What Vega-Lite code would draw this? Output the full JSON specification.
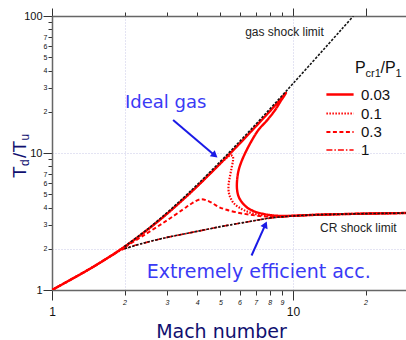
{
  "$schema": "https://vega.github.io/schema/vega-lite/v6.json",
  "width": 356,
  "height": 274,
  "autosize": {"type": "none"},
  "padding": {"left": 52, "top": 16, "right": 0, "bottom": 50},
  "background": "white",
  "config": {"view": {"stroke": null}, "font": "Liberation Sans"},
  "resolve": {"axis": {"x": "independent", "y": "independent"}},
  "datasets": {
    "red": [
      {"p": "0.03", "o": 1, "M": 1, "T": 1}, {"p": "0.03", "o": 2, "M": 1.5, "T": 1.495}, {"p": "0.03", "o": 3, "M": 2, "T": 2.07},
      {"p": "0.03", "o": 4, "M": 2.5, "T": 2.77}, {"p": "0.03", "o": 5, "M": 3, "T": 3.6}, {"p": "0.03", "o": 6, "M": 3.5, "T": 4.58},
      {"p": "0.03", "o": 7, "M": 4, "T": 5.7}, {"p": "0.03", "o": 8, "M": 5, "T": 8.4}, {"p": "0.03", "o": 9, "M": 6, "T": 11.7},
      {"p": "0.03", "o": 10, "M": 7, "T": 15.6}, {"p": "0.03", "o": 11, "M": 8, "T": 20.1}, {"p": "0.03", "o": 12, "M": 8.7, "T": 23.7},
      {"p": "0.03", "o": 13, "M": 9.2, "T": 26.6}, {"p": "0.03", "o": 14, "M": 9.35, "T": 27.4}, {"p": "0.03", "o": 15, "M": 8.9, "T": 24},
      {"p": "0.03", "o": 16, "M": 8.43, "T": 20.6}, {"p": "0.03", "o": 17, "M": 7.8, "T": 17.3}, {"p": "0.03", "o": 18, "M": 7.18, "T": 14.7},
      {"p": "0.03", "o": 19, "M": 6.58, "T": 11.4}, {"p": "0.03", "o": 20, "M": 6.15, "T": 8.9}, {"p": "0.03", "o": 21, "M": 5.95, "T": 7.5},
      {"p": "0.03", "o": 22, "M": 5.86, "T": 6.3}, {"p": "0.03", "o": 23, "M": 5.86, "T": 5.4}, {"p": "0.03", "o": 24, "M": 5.95, "T": 4.8},
      {"p": "0.03", "o": 25, "M": 6.15, "T": 4.35}, {"p": "0.03", "o": 26, "M": 6.45, "T": 4.0}, {"p": "0.03", "o": 27, "M": 6.9, "T": 3.75},
      {"p": "0.03", "o": 28, "M": 7.5, "T": 3.6}, {"p": "0.03", "o": 29, "M": 8.3, "T": 3.5}, {"p": "0.03", "o": 30, "M": 9.2, "T": 3.47},
      {"p": "0.03", "o": 31, "M": 10, "T": 3.48}, {"p": "0.03", "o": 32, "M": 12, "T": 3.53}, {"p": "0.03", "o": 33, "M": 15, "T": 3.57},
      {"p": "0.03", "o": 34, "M": 20, "T": 3.61}, {"p": "0.03", "o": 35, "M": 25, "T": 3.63}, {"p": "0.03", "o": 36, "M": 30, "T": 3.65},

      {"p": "0.1", "o": 1, "M": 1, "T": 1}, {"p": "0.1", "o": 2, "M": 1.5, "T": 1.495}, {"p": "0.1", "o": 3, "M": 2, "T": 2.07},
      {"p": "0.1", "o": 4, "M": 2.5, "T": 2.77}, {"p": "0.1", "o": 5, "M": 3, "T": 3.6}, {"p": "0.1", "o": 6, "M": 3.5, "T": 4.58},
      {"p": "0.1", "o": 7, "M": 4, "T": 5.7}, {"p": "0.1", "o": 8, "M": 4.5, "T": 7.0}, {"p": "0.1", "o": 9, "M": 5, "T": 8.4},
      {"p": "0.1", "o": 10, "M": 5.3, "T": 9.2}, {"p": "0.1", "o": 11, "M": 5.5, "T": 9.6}, {"p": "0.1", "o": 12, "M": 5.62, "T": 9.5},
      {"p": "0.1", "o": 13, "M": 5.64, "T": 8.9}, {"p": "0.1", "o": 14, "M": 5.57, "T": 7.9}, {"p": "0.1", "o": 15, "M": 5.47, "T": 6.7},
      {"p": "0.1", "o": 16, "M": 5.4, "T": 5.8}, {"p": "0.1", "o": 17, "M": 5.42, "T": 5.1}, {"p": "0.1", "o": 18, "M": 5.52, "T": 4.65},
      {"p": "0.1", "o": 19, "M": 5.68, "T": 4.3}, {"p": "0.1", "o": 20, "M": 5.95, "T": 4.02}, {"p": "0.1", "o": 21, "M": 6.35, "T": 3.78},
      {"p": "0.1", "o": 22, "M": 6.9, "T": 3.6}, {"p": "0.1", "o": 23, "M": 7.6, "T": 3.5}, {"p": "0.1", "o": 24, "M": 8.5, "T": 3.45},
      {"p": "0.1", "o": 25, "M": 10, "T": 3.48}, {"p": "0.1", "o": 26, "M": 12, "T": 3.53}, {"p": "0.1", "o": 27, "M": 15, "T": 3.57},
      {"p": "0.1", "o": 28, "M": 20, "T": 3.61}, {"p": "0.1", "o": 29, "M": 25, "T": 3.63}, {"p": "0.1", "o": 30, "M": 30, "T": 3.65},

      {"p": "0.3", "o": 1, "M": 1, "T": 1}, {"p": "0.3", "o": 2, "M": 1.5, "T": 1.495}, {"p": "0.3", "o": 3, "M": 2, "T": 2.05},
      {"p": "0.3", "o": 4, "M": 2.5, "T": 2.62}, {"p": "0.3", "o": 5, "M": 3, "T": 3.22}, {"p": "0.3", "o": 6, "M": 3.5, "T": 3.88},
      {"p": "0.3", "o": 7, "M": 3.8, "T": 4.28}, {"p": "0.3", "o": 8, "M": 4.15, "T": 4.6}, {"p": "0.3", "o": 9, "M": 4.5, "T": 4.42},
      {"p": "0.3", "o": 10, "M": 4.9, "T": 4.05}, {"p": "0.3", "o": 11, "M": 5.3, "T": 3.85}, {"p": "0.3", "o": 12, "M": 6, "T": 3.65},
      {"p": "0.3", "o": 13, "M": 6.6, "T": 3.55}, {"p": "0.3", "o": 14, "M": 7.5, "T": 3.45}, {"p": "0.3", "o": 15, "M": 8.5, "T": 3.42},
      {"p": "0.3", "o": 16, "M": 10, "T": 3.48}, {"p": "0.3", "o": 17, "M": 12, "T": 3.53}, {"p": "0.3", "o": 18, "M": 15, "T": 3.57},
      {"p": "0.3", "o": 19, "M": 20, "T": 3.61}, {"p": "0.3", "o": 20, "M": 25, "T": 3.63}, {"p": "0.3", "o": 21, "M": 30, "T": 3.65},

      {"p": "1", "o": 1, "M": 1, "T": 1}, {"p": "1", "o": 2, "M": 1.25, "T": 1.24}, {"p": "1", "o": 3, "M": 1.5, "T": 1.49},
      {"p": "1", "o": 4, "M": 1.75, "T": 1.76}, {"p": "1", "o": 5, "M": 2, "T": 2.0}, {"p": "1", "o": 6, "M": 2.4, "T": 2.2},
      {"p": "1", "o": 7, "M": 3, "T": 2.42}, {"p": "1", "o": 8, "M": 3.4, "T": 2.53}, {"p": "1", "o": 9, "M": 4, "T": 2.68},
      {"p": "1", "o": 10, "M": 5, "T": 2.9}, {"p": "1", "o": 11, "M": 6, "T": 3.07}, {"p": "1", "o": 12, "M": 7, "T": 3.22},
      {"p": "1", "o": 13, "M": 8, "T": 3.35}, {"p": "1", "o": 14, "M": 9, "T": 3.42}, {"p": "1", "o": 15, "M": 10, "T": 3.47},
      {"p": "1", "o": 16, "M": 12, "T": 3.53}, {"p": "1", "o": 17, "M": 15, "T": 3.57}, {"p": "1", "o": 18, "M": 20, "T": 3.61},
      {"p": "1", "o": 19, "M": 25, "T": 3.63}, {"p": "1", "o": 20, "M": 30, "T": 3.65}
    ],
    "black": [
      {"s": "gas", "o": 1, "M": 2, "T": 2.078}, {"s": "gas", "o": 2, "M": 2.5, "T": 2.798}, {"s": "gas", "o": 3, "M": 3, "T": 3.667},
      {"s": "gas", "o": 4, "M": 3.5, "T": 4.688}, {"s": "gas", "o": 5, "M": 4, "T": 5.863}, {"s": "gas", "o": 6, "M": 5, "T": 8.68},
      {"s": "gas", "o": 7, "M": 6, "T": 12.12}, {"s": "gas", "o": 8, "M": 7, "T": 16.18}, {"s": "gas", "o": 9, "M": 8, "T": 20.87},
      {"s": "gas", "o": 10, "M": 9, "T": 26.19}, {"s": "gas", "o": 11, "M": 10, "T": 32.12}, {"s": "gas", "o": 12, "M": 12, "T": 45.87},
      {"s": "gas", "o": 13, "M": 14, "T": 62.12}, {"s": "gas", "o": 14, "M": 16, "T": 80.87}, {"s": "gas", "o": 15, "M": 17.8, "T": 99.9},
      {"s": "CR", "o": 1, "M": 2, "T": 2.0}, {"s": "CR", "o": 2, "M": 2.4, "T": 2.2}, {"s": "CR", "o": 3, "M": 3, "T": 2.42},
      {"s": "CR", "o": 4, "M": 3.4, "T": 2.53}, {"s": "CR", "o": 5, "M": 4, "T": 2.68}, {"s": "CR", "o": 6, "M": 5, "T": 2.9},
      {"s": "CR", "o": 7, "M": 6, "T": 3.07}, {"s": "CR", "o": 8, "M": 7, "T": 3.22}, {"s": "CR", "o": 9, "M": 8, "T": 3.35},
      {"s": "CR", "o": 10, "M": 9, "T": 3.42}, {"s": "CR", "o": 11, "M": 10, "T": 3.47}, {"s": "CR", "o": 12, "M": 12, "T": 3.53},
      {"s": "CR", "o": 13, "M": 15, "T": 3.57}, {"s": "CR", "o": 14, "M": 20, "T": 3.61}, {"s": "CR", "o": 15, "M": 25, "T": 3.63},
      {"s": "CR", "o": 16, "M": 30, "T": 3.65}
    ]
  },
  "layer": [
    {
      "data": {"name": "red"},
      "mark": {"type": "line", "color": "#ff0000", "clip": true, "interpolate": "catmull-rom"},
      "encoding": {
        "x": {
          "field": "M", "type": "quantitative",
          "scale": {"type": "log", "domain": [1, 30], "nice": false, "zero": false},
          "axis": {
            "orient": "bottom",
            "values": [1, 2, 3, 4, 5, 6, 7, 8, 9, 10, 20, 30],
            "labelExpr": "datum.value >= 20 ? format(datum.value / 10, 'd') : format(datum.value, 'd')",
            "labelOverlap": false, "labelFlush": false, "labelBound": false,
            "labelFont": "Liberation Sans", "labelColor": "#111", "labelBaseline": "top",
            "labelFontSize": {"condition": {"test": "datum.value == 1 || datum.value == 10", "value": 12}, "value": 7},
            "labelFontStyle": {"condition": {"test": "datum.value == 1 || datum.value == 10", "value": "normal"}, "value": "italic"},
            "labelPadding": {"condition": {"test": "datum.value == 1 || datum.value == 10", "value": 6}, "value": 3},
            "tickSize": {"condition": {"test": "datum.value == 1 || datum.value == 10", "value": 10}, "value": 5},
            "tickColor": "#333", "tickWidth": 1,
            "domainColor": "#666", "domainWidth": 1.5,
            "grid": true, "gridColor": "#c8c8e6", "gridDash": [1, 2],
            "gridOpacity": {"condition": {"test": "datum.value == 2 || datum.value == 10", "value": 1}, "value": 0},
            "title": "Mach number", "titleFont": "DejaVu Sans", "titleFontSize": 19, "titleFontWeight": "normal",
            "titleColor": "#101070", "titleX": 169, "titleY": 47, "titleBaseline": "alphabetic", "titleAlign": "center"
          }
        },
        "y": {
          "field": "T", "type": "quantitative",
          "scale": {"type": "log", "domain": [1, 100], "nice": false, "zero": false},
          "axis": {
            "orient": "left",
            "values": [1, 2, 3, 4, 5, 6, 7, 8, 9, 10, 20, 30, 40, 50, 60, 70, 80, 90, 100],
            "labelExpr": "(datum.value == 1 || datum.value == 10 || datum.value == 100) ? format(datum.value, 'd') : (datum.value < 10 ? (datum.value <= 7 ? format(datum.value, 'd') : '') : (datum.value <= 70 ? format(datum.value / 10, 'd') : ''))",
            "labelOverlap": false, "labelFlush": false, "labelBound": false,
            "labelFont": "Liberation Sans", "labelColor": "#111",
            "labelFontSize": {"condition": {"test": "datum.value == 1 || datum.value == 10 || datum.value == 100", "value": 11}, "value": 7},
            "labelPadding": 1,
            "tickSize": {"condition": {"test": "datum.value == 1 || datum.value == 10 || datum.value == 100", "value": 9}, "value": 4},
            "tickColor": "#333", "tickWidth": 1,
            "domainColor": "#666", "domainWidth": 1.5,
            "grid": true, "gridColor": "#c8c8e6", "gridDash": [1, 2],
            "gridOpacity": {"condition": {"test": "datum.value == 2 || datum.value == 10", "value": 1}, "value": 0},
            "title": null
          }
        },
        "order": {"field": "o"},
        "strokeDash": {
          "field": "p", "type": "nominal",
          "scale": {"domain": ["0.03", "0.1", "0.3", "1"], "range": [[1, 0], [1.5, 1.5], [4, 2.5], [6, 2, 1.5, 2]]},
          "legend": {"title": null, "orient": "none", "legendX": 278.5, "legendY": 69, "padding": 0,
            "symbolType": "M-1.7,0L1.7,0", "symbolSize": 256, "symbolStrokeColor": "#ff0000",
            "labelFont": "Liberation Sans", "labelFontSize": 15, "labelColor": "#111", "labelOffset": 11.5, "rowPadding": 1}
        },
        "strokeWidth": {
          "field": "p", "type": "nominal",
          "scale": {"domain": ["0.03", "0.1", "0.3", "1"], "range": [2.4, 1.7, 1.7, 1.7]},
          "legend": {"title": null, "orient": "none", "legendX": 278.5, "legendY": 69, "padding": 0,
            "symbolType": "M-1.7,0L1.7,0", "symbolSize": 256, "symbolStrokeColor": "#ff0000",
            "labelFont": "Liberation Sans", "labelFontSize": 15, "labelColor": "#111", "labelOffset": 11.5, "rowPadding": 1}
        }
      }
    },
    {
      "data": {"name": "black"},
      "mark": {"type": "line", "color": "#151515", "strokeDash": [2.5, 1.5], "strokeWidth": 1.6, "clip": true, "interpolate": "catmull-rom"},
      "encoding": {
        "x": {
          "field": "M", "type": "quantitative",
          "axis": {
            "orient": "top", "labels": false, "title": null, "grid": false,
            "values": [1, 2, 3, 4, 5, 6, 7, 8, 9, 10, 20, 30],
            "tickSize": {"condition": {"test": "datum.value == 1 || datum.value == 10 || datum.value == 20", "value": 8}, "value": 4},
            "tickColor": "#333", "tickWidth": 1, "domainColor": "#666", "domainWidth": 1.5
          }
        },
        "y": {"field": "T", "type": "quantitative", "axis": null},
        "detail": {"field": "s"},
        "order": {"field": "o"}
      }
    },
    {
      "data": {"values": [{}]},
      "mark": {"type": "rule", "color": "#1a1ae6", "strokeWidth": 2},
      "encoding": {"x": {"datum": 3.18, "type": "quantitative", "axis": null}, "y": {"datum": 17.4, "type": "quantitative", "axis": null}, "x2": {"datum": 4.74}, "y2": {"datum": 9.6}}
    },
    {
      "data": {"values": [{}]},
      "mark": {"type": "point", "shape": "triangle-right", "filled": true, "opacity": 1, "color": "#1a1ae6", "size": 60, "angle": 39},
      "encoding": {"x": {"datum": 4.74, "type": "quantitative", "axis": null}, "y": {"datum": 9.6, "type": "quantitative", "axis": null}}
    },
    {
      "data": {"values": [{}]},
      "mark": {"type": "rule", "color": "#1a1ae6", "strokeWidth": 2},
      "encoding": {"x": {"datum": 6.73, "type": "quantitative", "axis": null}, "y": {"datum": 1.786, "type": "quantitative", "axis": null}, "x2": {"datum": 7.68}, "y2": {"datum": 3.0}}
    },
    {
      "data": {"values": [{}]},
      "mark": {"type": "point", "shape": "triangle-right", "filled": true, "opacity": 1, "color": "#1a1ae6", "size": 60, "angle": 294},
      "encoding": {"x": {"datum": 7.68, "type": "quantitative", "axis": null}, "y": {"datum": 3.0, "type": "quantitative", "axis": null}}
    },
    {
      "data": {"values": [{}]},
      "mark": {"type": "text", "text": "Ideal gas", "font": "DejaVu Sans", "fontSize": 18, "color": "#3a3af5", "align": "left", "baseline": "alphabetic"},
      "encoding": {"x": {"datum": 2.008, "type": "quantitative", "axis": null}, "y": {"datum": 21.3, "type": "quantitative", "axis": null}}
    },
    {
      "data": {"values": [{}]},
      "mark": {"type": "text", "text": "Extremely efficient acc.", "font": "DejaVu Sans", "fontSize": 19, "color": "#3a3af5", "align": "left", "baseline": "alphabetic"},
      "encoding": {"x": {"datum": 2.47, "type": "quantitative", "axis": null}, "y": {"datum": 1.223, "type": "quantitative", "axis": null}}
    },
    {
      "data": {"values": [{}]},
      "mark": {"type": "text", "text": "gas shock limit", "font": "Liberation Sans", "fontSize": 12, "color": "#222", "align": "left", "baseline": "alphabetic"},
      "encoding": {"x": {"datum": 6.33, "type": "quantitative", "axis": null}, "y": {"datum": 71.4, "type": "quantitative", "axis": null}}
    },
    {
      "data": {"values": [{}]},
      "mark": {"type": "text", "text": "CR shock limit", "font": "Liberation Sans", "fontSize": 12, "color": "#222", "align": "left", "baseline": "alphabetic"},
      "encoding": {"x": {"datum": 12.94, "type": "quantitative", "axis": null}, "y": {"datum": 2.65, "type": "quantitative", "axis": null}}
    },
    {
      "data": {"values": [{}]},
      "mark": {"type": "text", "text": "P", "font": "Liberation Sans", "fontSize": 16, "color": "#111", "align": "left", "baseline": "alphabetic"},
      "encoding": {"x": {"datum": 18.08, "type": "quantitative", "axis": null}, "y": {"datum": 38.37, "type": "quantitative", "axis": null}}
    },
    {
      "data": {"values": [{}]},
      "mark": {"type": "text", "text": "cr1", "font": "Liberation Sans", "fontSize": 11, "color": "#111", "align": "left", "baseline": "alphabetic"},
      "encoding": {"x": {"datum": 19.99, "type": "quantitative", "axis": null}, "y": {"datum": 35.86, "type": "quantitative", "axis": null}}
    },
    {
      "data": {"values": [{}]},
      "mark": {"type": "text", "text": "/P", "font": "Liberation Sans", "fontSize": 16, "color": "#111", "align": "left", "baseline": "alphabetic"},
      "encoding": {"x": {"datum": 23.07, "type": "quantitative", "axis": null}, "y": {"datum": 38.37, "type": "quantitative", "axis": null}}
    },
    {
      "data": {"values": [{}]},
      "mark": {"type": "text", "text": "1", "font": "Liberation Sans", "fontSize": 11, "color": "#111", "align": "left", "baseline": "alphabetic"},
      "encoding": {"x": {"datum": 26.63, "type": "quantitative", "axis": null}, "y": {"datum": 35.86, "type": "quantitative", "axis": null}}
    },
    {
      "data": {"values": [{}]},
      "mark": {"type": "text", "text": "T", "font": "Liberation Sans", "fontSize": 19, "color": "#101070", "align": "left", "baseline": "alphabetic", "angle": 270},
      "encoding": {"x": {"datum": 0.78, "type": "quantitative", "axis": null}, "y": {"datum": 6.57, "type": "quantitative", "axis": null}}
    },
    {
      "data": {"values": [{}]},
      "mark": {"type": "text", "text": "d", "font": "Liberation Sans", "fontSize": 12, "color": "#101070", "align": "left", "baseline": "alphabetic", "angle": 270},
      "encoding": {"x": {"datum": 0.803, "type": "quantitative", "axis": null}, "y": {"datum": 8.04, "type": "quantitative", "axis": null}}
    },
    {
      "data": {"values": [{}]},
      "mark": {"type": "text", "text": "/", "font": "Liberation Sans", "fontSize": 19, "color": "#101070", "align": "left", "baseline": "alphabetic", "angle": 270},
      "encoding": {"x": {"datum": 0.78, "type": "quantitative", "axis": null}, "y": {"datum": 9.19, "type": "quantitative", "axis": null}}
    },
    {
      "data": {"values": [{}]},
      "mark": {"type": "text", "text": "T", "font": "Liberation Sans", "fontSize": 19, "color": "#101070", "align": "left", "baseline": "alphabetic", "angle": 270},
      "encoding": {"x": {"datum": 0.78, "type": "quantitative", "axis": null}, "y": {"datum": 10.08, "type": "quantitative", "axis": null}}
    },
    {
      "data": {"values": [{}]},
      "mark": {"type": "text", "text": "u", "font": "Liberation Sans", "fontSize": 12, "color": "#101070", "align": "left", "baseline": "alphabetic", "angle": 270},
      "encoding": {"x": {"datum": 0.803, "type": "quantitative", "axis": null}, "y": {"datum": 12.34, "type": "quantitative", "axis": null}}
    }
  ]
}
